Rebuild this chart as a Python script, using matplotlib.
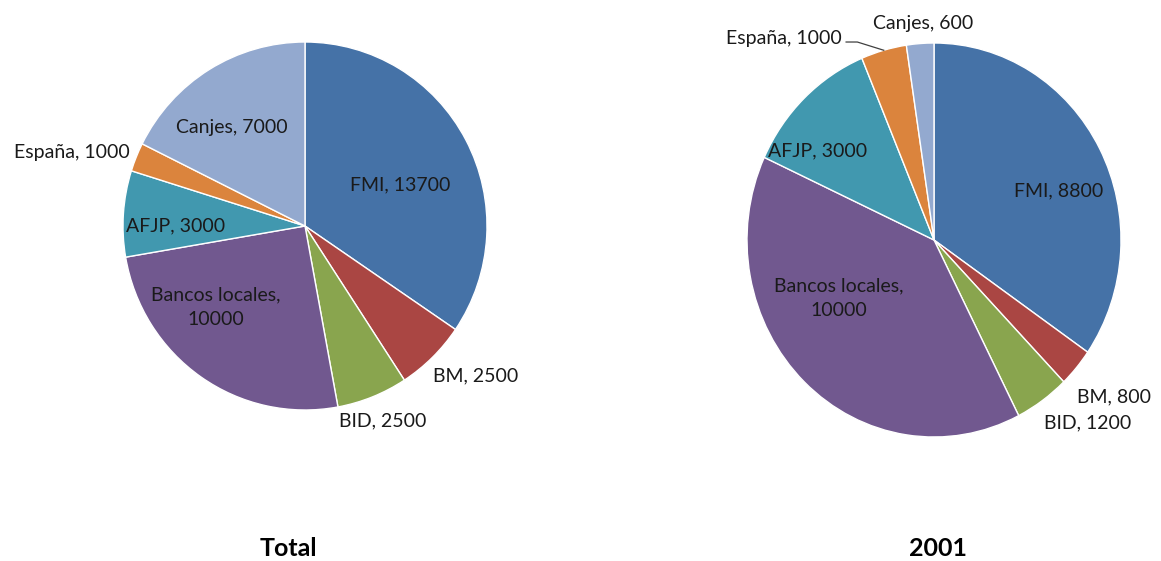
import numpy as np
import matplotlib
matplotlib.use("Agg")
import matplotlib.pyplot as plt

plt.rcParams['font.family'] = ['Lato', 'DejaVu Sans']

# datos
categorias = ["FMI", "BM", "BID", "Bancos locales", "AFJP", "España", "Canjes"]
valores_total = [13700, 2500, 2500, 10000, 3000, 1000, 7000]
valores_2001 = [8800, 800, 1200, 10000, 3000, 1000, 600]
titulos = ["Total", "2001"]

colores = ["#4572A7", "#AA4643", "#89A54E", "#71588F", "#4198AF", "#DB843D", "#93A9CF"]

# posición de etiquetas: (radio, ángulo en grados)
etiquetas_total = [(0.57, 23), (1.24, -41), (1.14, -68), (0.66, -138),
                   (0.71, 180), (1.34, 162.7), (0.67, 126.7)]
etiquetas_2001 = [(0.71, 20.6), (1.25, -39.5), (1.24, -48.4), (0.59, -150),
                  (0.77, 144), (1.30, 128.1), (1.10, 93)]
textos_total = ["FMI, 13700", "BM, 2500", "BID, 2500", "Bancos locales,\n10000",
                "AFJP, 3000", "España, 1000", "Canjes, 7000"]
textos_2001 = ["FMI, 8800", "BM, 800", "BID, 1200", "Bancos locales,\n10000",
               "AFJP, 3000", "España, 1000", "Canjes, 600"]

W, H = 1161, 561
fig = plt.figure(figsize=(W / 100, H / 100), dpi=100)

def pie_axes(cx, cy, rx, ry):
    return fig.add_axes([(cx - rx) / W, (H - cy - ry) / H, 2 * rx / W, 2 * ry / H])

def draw_pie(ax, valores, textos, etiquetas):
    wedges, _ = ax.pie(valores, colors=colores, startangle=90, counterclock=False,
                       radius=1, wedgeprops=dict(edgecolor="white", linewidth=1))
    ax.set_aspect("auto")
    ax.set_xlim(-1, 1)
    ax.set_ylim(-1, 1)
    ax.axis("off")
    for txt, (r, ang) in zip(textos, etiquetas):
        a = np.deg2rad(ang)
        ax.text(r * np.cos(a), r * np.sin(a), txt, ha="center", va="center",
                fontsize=14, color="#1a1a1a", linespacing=1.55)
    return wedges

ax1 = pie_axes(305, 226, 182, 184)
draw_pie(ax1, valores_total, textos_total, etiquetas_total)

ax2 = pie_axes(934, 240, 187, 197)
w2 = draw_pie(ax2, valores_2001, textos_2001, etiquetas_2001)
# línea guía para España
mid = np.deg2rad((w2[5].theta1 + w2[5].theta2) / 2)
ax2.plot([-0.47, -0.41, np.cos(mid)], [1.005, 1.005, np.sin(mid)],
         color="#404040", lw=0.9, clip_on=False)

fig.text(288 / W, 1 - 548 / H, titulos[0], ha="center", va="center", fontsize=18, fontweight="bold")
fig.text(938 / W, 1 - 548 / H, titulos[1], ha="center", va="center", fontsize=18, fontweight="bold")

fig.savefig("out.png", dpi=100, facecolor="white")
